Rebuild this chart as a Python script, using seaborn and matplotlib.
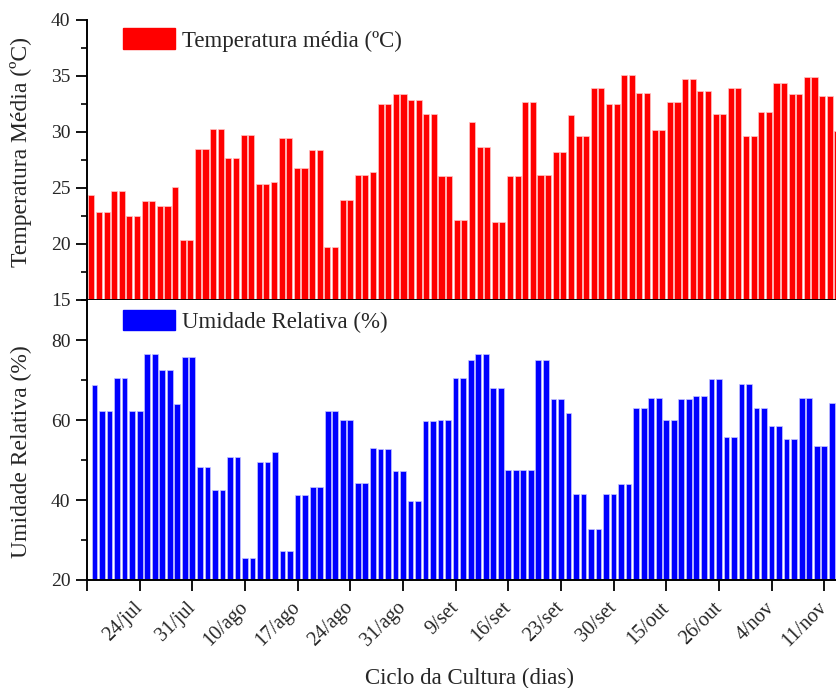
import numpy as np
import pandas as pd
import matplotlib
matplotlib.use("Agg")
import matplotlib.pyplot as plt
import seaborn as sns
from matplotlib.patches import Patch
from matplotlib.ticker import MultipleLocator

# ---------------- data ----------------
temperatura = [
    24.4, 22.9, 22.9, 24.7, 24.7, 22.5, 22.5, 23.8, 23.8, 23.4,
    23.4, 25.1, 20.4, 20.4, 28.5, 28.5, 30.3, 30.3, 27.7, 27.7,
    29.7, 29.7, 25.4, 25.4, 25.5, 29.5, 29.5, 26.8, 26.8, 28.4,
    28.4, 19.7, 19.7, 23.9, 23.9, 26.2, 26.2, 26.4, 32.5, 32.5,
    33.4, 33.4, 32.9, 32.9, 31.6, 31.6, 26.1, 26.1, 22.1, 22.1,
    30.9, 28.7, 28.7, 22.0, 22.0, 26.1, 26.1, 32.7, 32.7, 26.2,
    26.2, 28.2, 28.2, 31.5, 29.6, 29.6, 33.9, 33.9, 32.5, 32.5,
    35.1, 35.1, 33.5, 33.5, 30.2, 30.2, 32.7, 32.7, 34.7, 34.7,
    33.7, 33.7, 31.6, 31.6, 33.9, 33.9, 29.6, 29.6, 31.8, 31.8,
    34.4, 34.4, 33.4, 33.4, 34.9, 34.9, 33.2, 33.2, 30.1,
]
umidade = [
    68.7, 62.2, 62.2, 70.6, 70.6, 62.2, 62.2, 76.6, 76.6, 72.6,
    72.6, 64.1, 75.7, 75.7, 48.2, 48.2, 42.6, 42.6, 50.7, 50.7,
    25.6, 25.6, 49.6, 49.6, 52.1, 27.2, 27.2, 41.2, 41.2, 43.2,
    43.2, 62.2, 62.2, 60.1, 60.1, 44.2, 44.2, 53.1, 52.7, 52.7,
    47.2, 47.2, 39.7, 39.7, 59.7, 59.7, 60.1, 60.1, 70.6, 70.6,
    75.1, 76.6, 76.6, 68.1, 68.1, 47.6, 47.6, 47.6, 47.6, 75.1,
    75.1, 65.2, 65.2, 61.7, 41.6, 41.6, 32.7, 32.7, 41.6, 41.6,
    44.1, 44.1, 63.1, 63.1, 65.6, 65.6, 60.1, 60.1, 65.2, 65.2,
    66.1, 66.1, 70.2, 70.2, 55.7, 55.7, 69.1, 69.1, 63.1, 63.1,
    58.6, 58.6, 55.2, 55.2, 65.6, 65.6, 53.6, 53.6, 64.2,
]
dias = list(range(1, len(temperatura) + 1))
rotulos_x = ["24/jul", "31/jul", "10/ago", "17/ago", "24/ago", "31/ago",
             "9/set", "16/set", "23/set", "30/set", "15/out", "26/out",
             "4/nov", "11/nov"]

# ---------------- style ----------------
sns.set_theme(style="ticks")
plt.rcParams["font.family"] = ["Liberation Serif", "DejaVu Serif"]
plt.rcParams["axes.linewidth"] = 1.4

W, H = 837, 688
fig = plt.figure(figsize=(W / 100, H / 100), dpi=100)
ax1 = fig.add_axes([87 / W, 1 - 300 / H, 750 / W, 280 / H])
ax2 = fig.add_axes([87 / W, 1 - 580 / H, 750 / W, 280 / H])

df_t = pd.DataFrame({"dia": dias, "valor": temperatura})
df_u = pd.DataFrame({"dia": dias, "valor": umidade})

sns.barplot(data=df_t, x="dia", y="valor", native_scale=True, color="#ff0000",
            saturation=1, width=0.8, errorbar=None, ax=ax1,
            edgecolor="#ffc4c4", linewidth=0.5)
sns.barplot(data=df_u, x="dia", y="valor", native_scale=True, color="#0000ff",
            saturation=1, width=0.76, errorbar=None, ax=ax2,
            edgecolor="#c4c4ff", linewidth=0.5)

# ---------------- axes ----------------
ax1.set_xlim(0.43, 98.95)
ax1.set_ylim(15, 40)
ax1.yaxis.set_major_locator(MultipleLocator(5))
ax1.yaxis.set_minor_locator(MultipleLocator(2.5))
ax1.tick_params(axis="x", which="both", bottom=False, labelbottom=False)
ax1.set_xlabel("")

ax2.set_xlim(0, 99.7)
ax2.set_ylim(20, 90)
ax2.set_yticks([20, 40, 60, 80])
ax2.yaxis.set_minor_locator(MultipleLocator(10))
ax2.set_xticks(range(0, 99, 7))
ax2.set_xticklabels([""] + rotulos_x, rotation=45, ha="right", va="center",
                    rotation_mode="anchor")
ax2.xaxis.set_minor_locator(matplotlib.ticker.NullLocator())

for ax in (ax1, ax2):
    for s in ("top", "right"):
        ax.spines[s].set_visible(False)
    for s in ("left", "bottom"):
        ax.spines[s].set_color("black")
    ax.tick_params(which="major", direction="out", length=8, width=1.3,
                   color="black", labelsize=14, pad=4)
    ax.tick_params(which="minor", direction="out", length=4.5, width=1.2,
                   color="black")
    ax.tick_params(axis="y", which="minor", left=True)
    ax.set_facecolor("white")

ax2.tick_params(axis="x", pad=10, labelsize=14.5)

ax1.set_ylabel("Temperatura Média (ºC)", fontsize=17)
ax1.yaxis.set_label_coords(-0.073, 0.53)
ax2.set_ylabel("Umidade Relativa (%)", fontsize=17)
ax2.yaxis.set_label_coords(-0.073, 0.46)
ax2.set_xlabel("Ciclo da Cultura (dias)", fontsize=16.5)
ax2.xaxis.set_label_coords(0.51, -0.315)

leg_kw = dict(loc="upper left", frameon=False, borderpad=0, borderaxespad=0,
              handlelength=2.25, handleheight=1.0, handletextpad=0.33,
              fontsize=16.5)
ax1.legend(handles=[Patch(facecolor="#ff0000", edgecolor="#ff0000",
                          label="Temperatura média (ºC)")],
           bbox_to_anchor=(0.048, 0.97), **leg_kw)
ax2.legend(handles=[Patch(facecolor="#0000ff", edgecolor="#0000ff",
                          label="Umidade Relativa (%)")],
           bbox_to_anchor=(0.048, 0.965), **leg_kw)

fig.savefig("out.png", dpi=100, facecolor="white")
